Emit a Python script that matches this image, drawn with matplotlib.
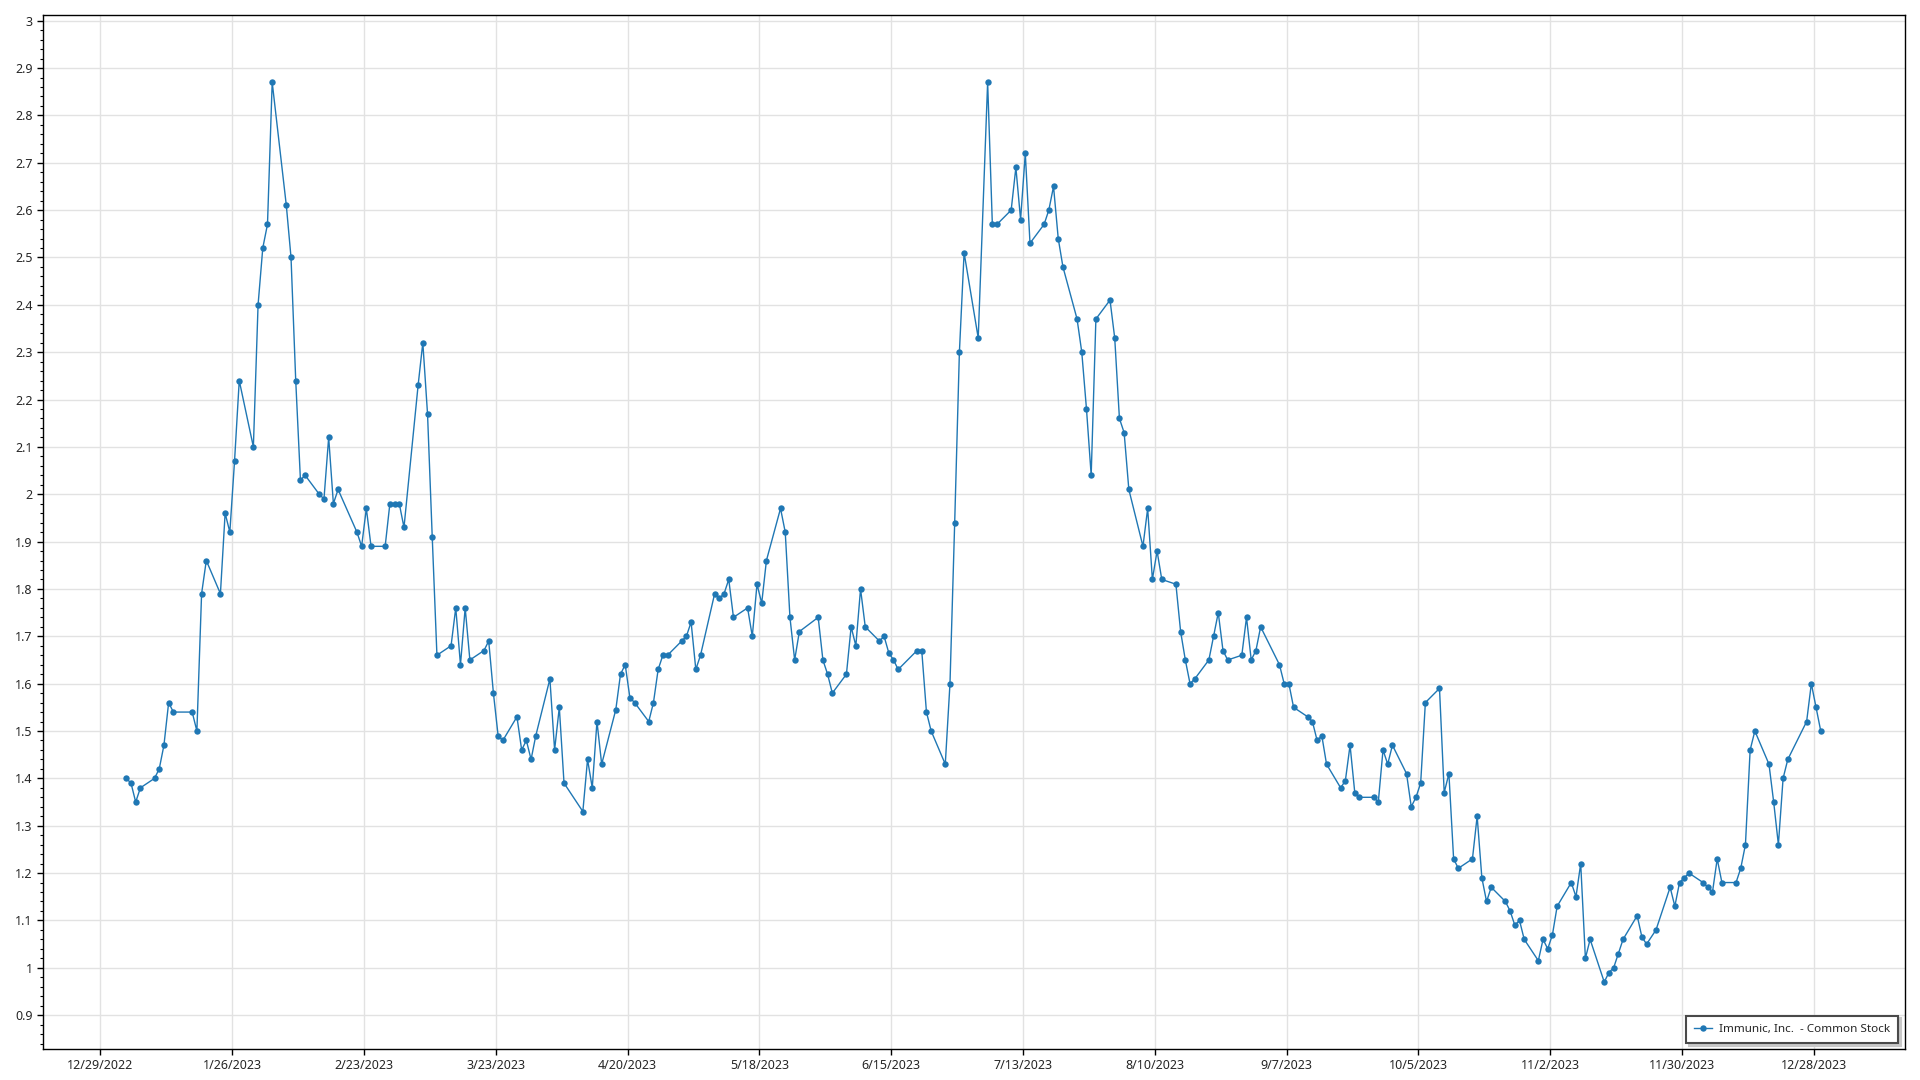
import matplotlib
matplotlib.use("Agg")
import matplotlib.pyplot as plt
from matplotlib.ticker import MultipleLocator, FuncFormatter
import pandas as pd
import datetime as dt

plt.rcParams['font.family'] = ['Noto Sans', 'DejaVu Sans']

series_name = "Immunic, Inc.  - Common Stock"

# NYSE holidays 2023 (non-trading days)
holidays = ["2023-01-02", "2023-01-16", "2023-02-20", "2023-04-07", "2023-05-29",
            "2023-06-19", "2023-07-04", "2023-09-04", "2023-11-23", "2023-12-25"]

# Closing prices per month (one value per trading day)
jan = [1.40, 1.39, 1.35, 1.38, 1.40, 1.42, 1.47, 1.56, 1.54, 1.54, 1.50, 1.79, 1.86,
       1.79, 1.96, 1.92, 2.07, 2.24, 2.10, 2.40]
feb = [2.52, 2.57, 2.87, 2.61, 2.50, 2.24, 2.03, 2.04, 2.00, 1.99, 2.12, 1.98, 2.01,
       1.92, 1.89, 1.97, 1.89, 1.89, 1.98]
mar = [1.98, 1.98, 1.93, 2.23, 2.32, 2.17, 1.91, 1.66, 1.68, 1.76, 1.64, 1.76, 1.65,
       1.67, 1.69, 1.58, 1.49, 1.48, 1.53, 1.46, 1.48, 1.44, 1.49]
apr = [1.61, 1.46, 1.55, 1.39, 1.33, 1.44, 1.38, 1.52, 1.43, 1.545, 1.62, 1.64, 1.57,
       1.56, 1.52, 1.56, 1.63, 1.66, 1.66]
may = [1.69, 1.70, 1.73, 1.63, 1.66, 1.79, 1.78, 1.79, 1.82, 1.74, 1.76, 1.70, 1.81,
       1.77, 1.86, 1.97, 1.92, 1.74, 1.65, 1.71, 1.74, 1.65]
jun = [1.62, 1.58, 1.62, 1.72, 1.68, 1.80, 1.72, 1.69, 1.70, 1.665, 1.65, 1.63, 1.67,
       1.67, 1.54, 1.50, 1.43, 1.60, 1.94, 2.30, 2.51]
jul = [2.33, 2.87, 2.57, 2.57, 2.60, 2.69, 2.58, 2.72, 2.53, 2.57, 2.60, 2.65, 2.54,
       2.48, 2.37, 2.30, 2.18, 2.04, 2.37, 2.41]
aug = [2.33, 2.16, 2.13, 2.01, 1.89, 1.97, 1.82, 1.88, 1.82, 1.81, 1.71, 1.65, 1.60,
       1.61, 1.65, 1.70, 1.75, 1.67, 1.65, 1.66, 1.74, 1.65, 1.67]
sep = [1.72, 1.64, 1.60, 1.60, 1.55, 1.53, 1.52, 1.48, 1.49, 1.43, 1.38, 1.395, 1.47,
       1.37, 1.36, 1.36, 1.35, 1.46, 1.43, 1.47]
oct_ = [1.41, 1.34, 1.36, 1.39, 1.56, 1.59, 1.37, 1.41, 1.23, 1.21, 1.23, 1.32, 1.19,
        1.14, 1.17, 1.14, 1.12, 1.09, 1.10, 1.06, 1.015, 1.06]
nov = [1.04, 1.07, 1.13, 1.18, 1.15, 1.22, 1.02, 1.06, 0.97, 0.99, 1.00, 1.03, 1.06,
       1.11, 1.065, 1.05, 1.08, 1.17, 1.13, 1.18, 1.19]
dec = [1.20, 1.18, 1.17, 1.16, 1.23, 1.18, 1.18, 1.21, 1.26, 1.46, 1.50, 1.43, 1.35,
       1.26, 1.40, 1.44, 1.52, 1.60, 1.55, 1.50]

prices = jan + feb + mar + apr + may + jun + jul + aug + sep + oct_ + nov + dec
# trading-day timestamps (values are stamped at midday)
dates = pd.bdate_range("2023-01-03", "2023-12-29", freq="C", holidays=holidays) + pd.Timedelta(hours=12)
assert len(dates) == len(prices)

x_tick_labels = ["12/29/2022", "1/26/2023", "2/23/2023", "3/23/2023", "4/20/2023",
                 "5/18/2023", "6/15/2023", "7/13/2023", "8/10/2023", "9/7/2023",
                 "10/5/2023", "11/2/2023", "11/30/2023", "12/28/2023"]
y_ticks = [0.9, 1.0, 1.1, 1.2, 1.3, 1.4, 1.5, 1.6, 1.7, 1.8, 1.9, 2.0,
           2.1, 2.2, 2.3, 2.4, 2.5, 2.6, 2.7, 2.8, 2.9, 3.0]

W, H = 1920, 1080
fig = plt.figure(figsize=(19.2, 10.8), dpi=100)
left, right, top, bottom = 42.5, 1905, 15, 1049
ax = fig.add_axes([left / W, 1 - bottom / H, (right - left) / W, (bottom - top) / H])

color = "#1f77b4"
ax.plot(dates, prices, color=color, linewidth=1.0, marker="o", markersize=4.6,
        markeredgewidth=0, label=series_name, zorder=3)

base = dt.datetime(2022, 12, 29)
ax.set_xlim(base + dt.timedelta(days=-12.3), base + dt.timedelta(days=383.4))
ax.set_ylim(0.8285, 3.012)

tick_dates = [dt.datetime.strptime(s, "%m/%d/%Y") for s in x_tick_labels]
ax.set_xticks(tick_dates)
ax.set_xticklabels(x_tick_labels)
ax.set_yticks(y_ticks)
ax.yaxis.set_major_formatter(FuncFormatter(lambda v, p: f"{v:g}"))
ax.yaxis.set_minor_locator(MultipleLocator(0.02))

ax.grid(True, which="major", color="#e2e2e2", linewidth=1.0, zorder=0)
ax.set_axisbelow(True)
for sp in ax.spines.values():
    sp.set_color("black")
    sp.set_linewidth(1.0)

ax.tick_params(axis="both", which="major", length=4, width=1, color="black",
               labelsize=9, labelcolor="#262626", pad=3)
ax.tick_params(axis="y", which="minor", length=2, width=0.8, color="black")
ax.tick_params(axis="x", which="minor", length=0)

leg = ax.legend(loc="lower right", bbox_to_anchor=(0.9962, 0.0058), borderaxespad=0,
                fontsize=8.4, frameon=True, fancybox=False, edgecolor="#4a4a4a",
                framealpha=1, handlelength=1.5, handletextpad=0.6, borderpad=0.7,
                shadow={"color": "#c8c8c8", "alpha": 1.0})
leg.get_frame().set_linewidth(1.5)
for t in leg.get_texts():
    t.set_color("#262626")

fig.savefig("out.png", dpi=100)
